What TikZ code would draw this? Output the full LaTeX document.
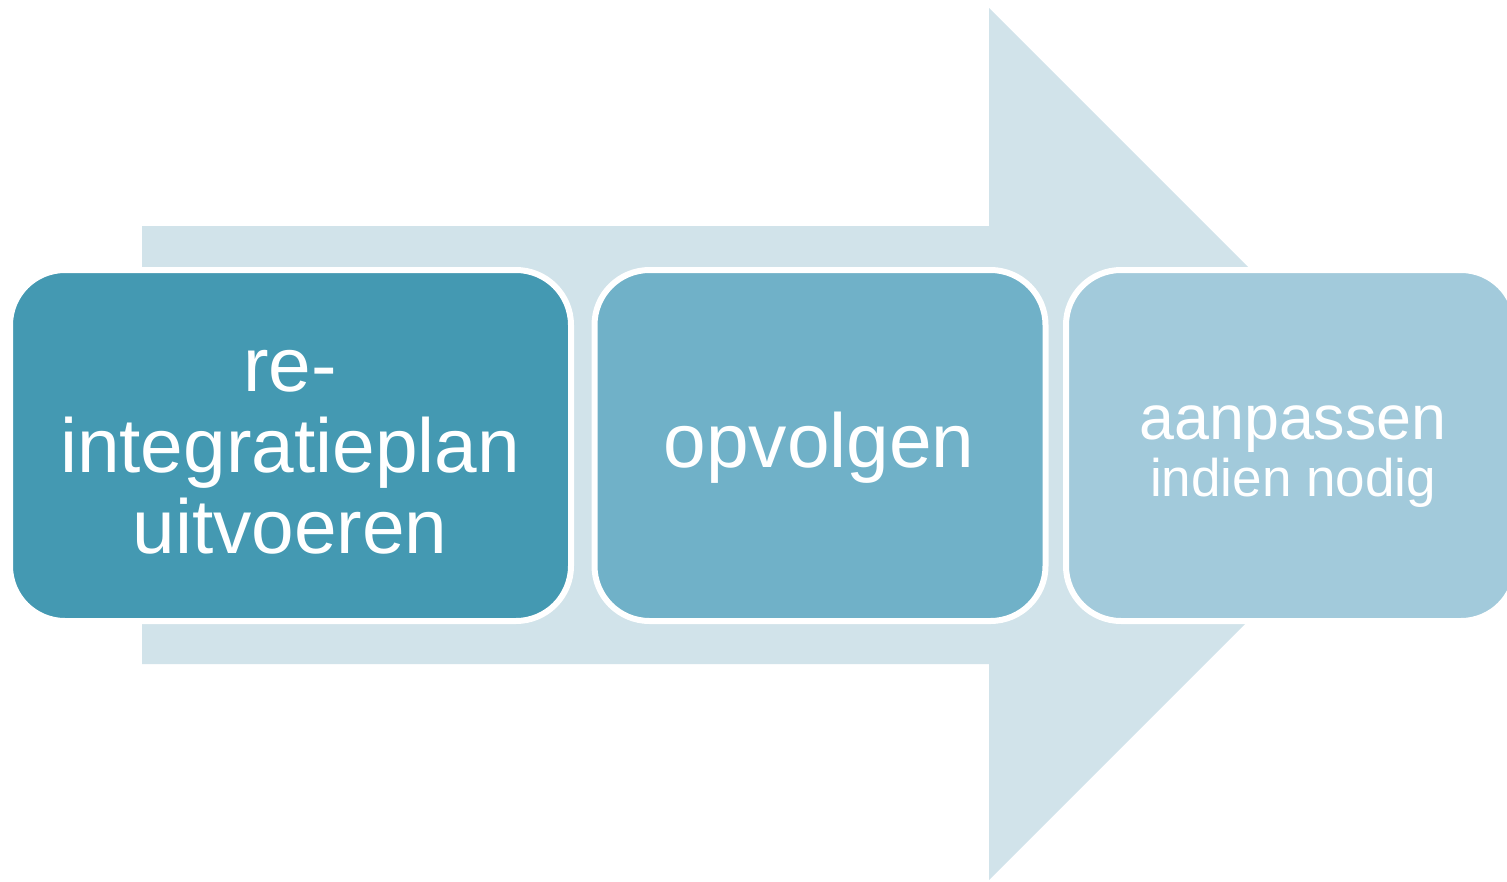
\documentclass[tikz,border=0pt]{standalone}
\usepackage{fontspec}
\setmainfont{Liberation Sans}
\definecolor{arrowc}{HTML}{D1E3EA}
\definecolor{cone}{HTML}{4499B2}
\definecolor{ctwo}{HTML}{70B1C8}
\definecolor{cthree}{HTML}{A2CADB}
\tikzset{
  stepbox/.style={draw=white, line width=6pt, rounded corners=55pt, inner sep=0pt,
    minimum height=351pt},
  boxtext/.style={text=white, align=center, inner sep=0pt},
  bigtext/.style={font=\fontsize{76.6}{81}\selectfont},
}
\begin{document}
\begin{tikzpicture}[x=1pt,y=-1pt]
\useasboundingbox (0,0) rectangle (1507,881);
\clip (0,0) rectangle (1507,881);
\fill[arrowc] (142,226) -- (989,226) -- (989,8) -- (1425,444) -- (989,880) -- (989,664) -- (142,664) -- cycle;
\node[stepbox, fill=cone, minimum width=561pt] (b1) at (290.5,445.5) {};
\node[stepbox, fill=ctwo, minimum width=451pt] (b2) at (820,445.5) {};
\node[stepbox, fill=cthree, minimum width=450pt] (b3) at (1291,445.5) {};
\node[boxtext, bigtext] (t1) at (290,452) {re-\\integratieplan\\uitvoeren};
\node[boxtext, bigtext] (t2) at (819,448) {opvolgen};
\node[boxtext, font=\fontsize{62.8}{57}\selectfont] (t3) at (1293,457) {aanpassen\\{\fontsize{53}{57}\selectfont indien nodig}};
\end{tikzpicture}
\end{document}
